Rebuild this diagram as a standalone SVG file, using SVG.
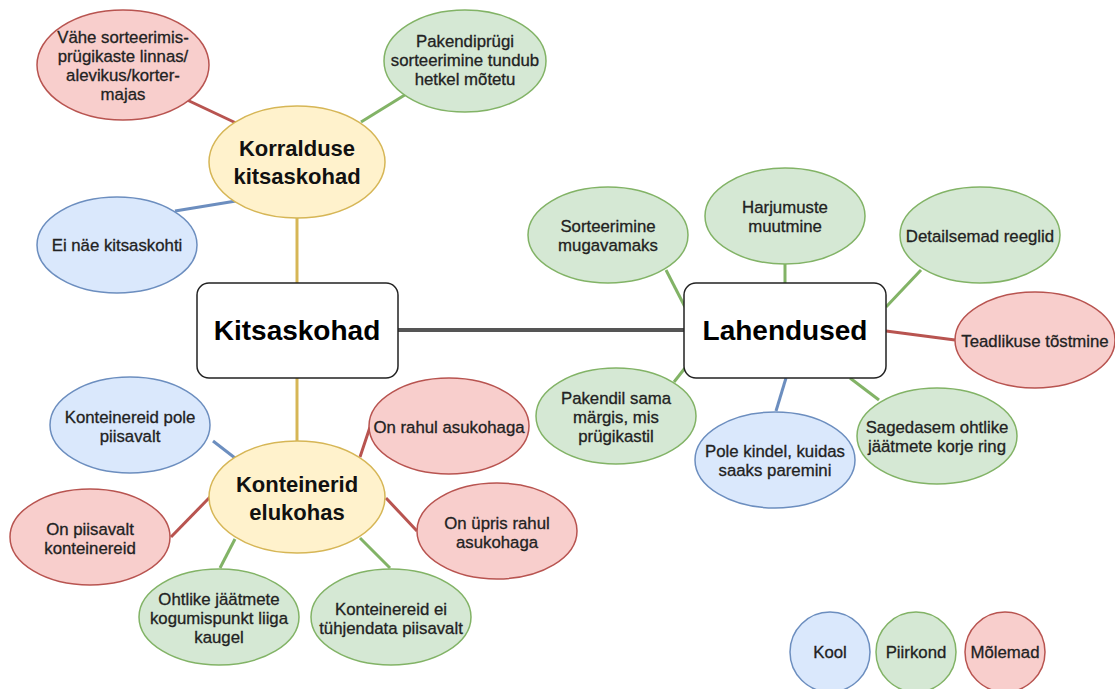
<svg xmlns="http://www.w3.org/2000/svg" width="1115" height="689" viewBox="0 0 1115 689">
<style>
.b{fill:#dae8fc;stroke:#6c8ebf;stroke-width:1.5}
.g{fill:#d5e8d4;stroke:#82b366;stroke-width:1.5}
.r{fill:#f8cecc;stroke:#b85450;stroke-width:1.5}
.y{fill:#fff2cc;stroke:#d6b656;stroke-width:1.5}
.box{fill:#fff;stroke:#222;stroke-width:1.5}
text{font-family:"Liberation Sans",Arial,sans-serif;fill:#222;text-anchor:middle}
.t{font-size:16.8px;stroke:#222;stroke-width:0.3}
.h{font-size:22px;font-weight:bold;fill:#111}
.m{font-size:28px;font-weight:bold;fill:#000}
.cb{stroke:#6c8ebf;stroke-width:3;fill:none}
.cg{stroke:#82b366;stroke-width:3;fill:none}
.cr{stroke:#b85450;stroke-width:3;fill:none}
.cy{stroke:#d6b656;stroke-width:3;fill:none}
.ck{stroke:#555;stroke-width:4;fill:none}
</style>
<rect width="1115" height="689" fill="#fff"/>
<g id="connectors">
<line class="ck" x1="398" y1="330" x2="684" y2="330"/>
<line class="cy" x1="297" y1="218" x2="297" y2="283"/>
<line class="cy" x1="297" y1="378" x2="297" y2="442"/>
<line class="cr" x1="185" y1="99" x2="236" y2="123"/>
<line class="cg" x1="361" y1="122" x2="408" y2="93"/>
<line class="cb" x1="175" y1="211" x2="236" y2="201"/>
<line class="cg" x1="666" y1="270" x2="685" y2="307"/>
<line class="cg" x1="785" y1="264" x2="785" y2="283"/>
<line class="cg" x1="921" y1="270" x2="886" y2="307"/>
<line class="cr" x1="886" y1="331" x2="955" y2="340"/>
<line class="cg" x1="685" y1="368" x2="674" y2="382"/>
<line class="cb" x1="786" y1="378" x2="776" y2="411"/>
<line class="cg" x1="850" y1="378" x2="879" y2="400"/>
<line class="cb" x1="213" y1="441" x2="235" y2="458"/>
<line class="cr" x1="360" y1="457" x2="370" y2="427"/>
<line class="cr" x1="210" y1="497" x2="171" y2="537"/>
<line class="cr" x1="386" y1="498" x2="417" y2="531"/>
<line class="cg" x1="235" y1="539" x2="220" y2="568"/>
<line class="cg" x1="360" y1="538" x2="390" y2="568"/>
</g>
<g id="kitsaskohad"><rect class="box" x="197" y="283" width="201" height="95" rx="12"/><text class="m" x="297" y="340">Kitsaskohad</text></g>
<g id="lahendused"><rect class="box" x="684" y="283" width="202" height="95" rx="12"/><text class="m" x="785" y="340">Lahendused</text></g>
<g id="korralduse"><ellipse class="y" cx="297" cy="162" rx="88" ry="56"/><text class="h" x="297" y="156">Korralduse</text><text class="h" x="297" y="184">kitsaskohad</text></g>
<g id="konteinerid"><ellipse class="y" cx="297" cy="497" rx="88" ry="56"/><text class="h" x="297" y="492">Konteinerid</text><text class="h" x="297" y="520">elukohas</text></g>
<g id="vahe"><ellipse class="r" cx="123" cy="65" rx="86" ry="55"/><text class="t" x="123" y="43">Vähe sorteerimis-</text><text class="t" x="123" y="62">prügikaste linnas/</text><text class="t" x="123" y="81">alevikus/korter-</text><text class="t" x="123" y="100">majas</text></g>
<g id="pakendiprugi"><ellipse class="g" cx="465" cy="61" rx="81" ry="51"/><text class="t" x="465" y="47">Pakendiprügi</text><text class="t" x="465" y="66">sorteerimine tundub</text><text class="t" x="465" y="85">hetkel mõtetu</text></g>
<g id="einae"><ellipse class="b" cx="117" cy="245" rx="80" ry="48"/><text class="t" x="117" y="251">Ei näe kitsaskohti</text></g>
<g id="sorteerimine"><ellipse class="g" cx="608" cy="235" rx="80" ry="48"/><text class="t" x="608" y="232">Sorteerimine</text><text class="t" x="608" y="251">mugavamaks</text></g>
<g id="harjumuste"><ellipse class="g" cx="785" cy="216" rx="80" ry="48"/><text class="t" x="785" y="213">Harjumuste</text><text class="t" x="785" y="232">muutmine</text></g>
<g id="detailsemad"><ellipse class="g" cx="980" cy="235" rx="80" ry="48"/><text class="t" x="980" y="242">Detailsemad reeglid</text></g>
<g id="teadlikuse"><ellipse class="r" cx="1035" cy="340" rx="80" ry="48"/><text class="t" x="1035" y="347">Teadlikuse tõstmine</text></g>
<g id="pakendil"><ellipse class="g" cx="616" cy="416" rx="80" ry="48"/><text class="t" x="616" y="404">Pakendil sama</text><text class="t" x="616" y="423">märgis, mis</text><text class="t" x="616" y="442">prügikastil</text></g>
<g id="polekindel"><ellipse class="b" cx="775" cy="460" rx="80" ry="48"/><text class="t" x="775" y="457">Pole kindel, kuidas</text><text class="t" x="775" y="476">saaks paremini</text></g>
<g id="sagedasem"><ellipse class="g" cx="937" cy="436" rx="80" ry="48"/><text class="t" x="937" y="433">Sagedasem ohtlike</text><text class="t" x="937" y="452">jäätmete korje ring</text></g>
<g id="pole-piisavalt"><ellipse class="b" cx="130" cy="425" rx="80" ry="48"/><text class="t" x="130" y="423">Konteinereid pole</text><text class="t" x="130" y="442">piisavalt</text></g>
<g id="onrahul"><ellipse class="r" cx="449" cy="426" rx="80" ry="48"/><text class="t" x="449" y="433">On rahul asukohaga</text></g>
<g id="onpiisavalt"><ellipse class="r" cx="90" cy="537" rx="80" ry="48"/><text class="t" x="90" y="535">On piisavalt</text><text class="t" x="90" y="554">konteinereid</text></g>
<g id="upris"><ellipse class="r" cx="497" cy="531" rx="80" ry="48"/><text class="t" x="497" y="529">On üpris rahul</text><text class="t" x="497" y="548">asukohaga</text></g>
<g id="ohtlike"><ellipse class="g" cx="219" cy="617" rx="80" ry="48"/><text class="t" x="219" y="605">Ohtlike jäätmete</text><text class="t" x="219" y="624">kogumispunkt liiga</text><text class="t" x="219" y="643">kaugel</text></g>
<g id="tuhjendata"><ellipse class="g" cx="391" cy="617" rx="80" ry="48"/><text class="t" x="391" y="615">Konteinereid ei</text><text class="t" x="391" y="634">tühjendata piisavalt</text></g>
<g id="kool"><circle class="b" cx="830" cy="652" r="40"/><text class="t" x="830" y="658">Kool</text></g>
<g id="piirkond"><circle class="g" cx="916" cy="652" r="40"/><text class="t" x="916" y="658">Piirkond</text></g>
<g id="molemad"><circle class="r" cx="1005" cy="652" r="40"/><text class="t" x="1005" y="658">Mõlemad</text></g>
</svg>
